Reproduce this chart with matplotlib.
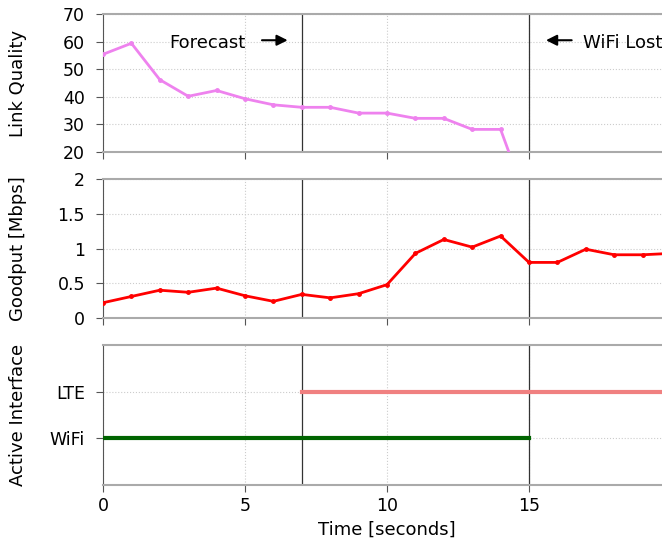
import matplotlib
matplotlib.use('Agg')
import matplotlib.pyplot as plt

# link quality (forecast), goodput, active interface
lq_t = [0, 1, 2, 3, 4, 5, 6, 7, 8, 9, 10, 11, 12, 13, 14, 15]
lq = [55.4, 59.4, 46.2, 40.2, 42.3, 39.3, 37.1, 36.2, 36.2, 34.1, 34.1, 32.2, 32.2, 28.2, 28.2, 0]

gp_t = list(range(21))
goodput = [0.22, 0.31, 0.40, 0.37, 0.43, 0.32, 0.24, 0.34, 0.29, 0.35, 0.48,
           0.93, 1.13, 1.02, 1.18, 0.80, 0.80, 0.99, 0.91, 0.91, 0.93]

lte_span = [7, 20]
wifi_span = [0, 15]
events = [7, 15]

plt.rcParams['font.family'] = 'DejaVu Sans'
plt.rcParams['font.size'] = 12.5

fig = plt.figure(figsize=(6.62, 5.5), dpi=100)
left, width = 0.1556, 0.858
ax1 = fig.add_axes([left, 0.7236, width, 0.2509])
ax2 = fig.add_axes([left, 0.4218, width, 0.2527])
ax3 = fig.add_axes([left, 0.1182, width, 0.2545])


def style(ax):
    ax.set_xlim(0, 20)
    ax.set_xticks([0, 5, 10, 15])
    ax.grid(True, linestyle=':', color='#cccccc', linewidth=0.8, zorder=0)
    ax.spines['right'].set_visible(False)
    ax.spines['top'].set_color('#aaaaaa')
    ax.spines['bottom'].set_color('#aaaaaa')
    ax.spines['top'].set_linewidth(1.5)
    ax.spines['bottom'].set_linewidth(1.5)
    ax.spines['left'].set_color('#555555')
    ax.tick_params(direction='out', length=5, color='#555555', labelsize=12.5)
    ax.tick_params(axis='y', pad=8)
    for x in events:
        ax.axvline(x, color='#333333', linewidth=0.9, zorder=2)


for ax in (ax1, ax2, ax3):
    style(ax)

ax1.plot(lq_t, lq, color='violet', linewidth=2, marker='o', markersize=2.5, zorder=3)
ax1.set_ylim(20, 70)
ax1.set_yticks([20, 30, 40, 50, 60, 70])
ax1.set_ylabel('Link Quality', fontsize=13)
ax1.tick_params(labelbottom=False)
ax1.annotate('', xy=(6.6, 60.5), xytext=(5.5, 60.5),
             arrowprops=dict(arrowstyle='-|>', color='black', lw=1.5, mutation_scale=16))
ax1.text(2.35, 59.5, 'Forecast', va='center', ha='left', fontsize=13)
ax1.annotate('', xy=(15.5, 60.5), xytext=(16.6, 60.5),
             arrowprops=dict(arrowstyle='-|>', color='black', lw=1.5, mutation_scale=16))
ax1.text(16.9, 59.5, 'WiFi Lost', va='center', ha='left', fontsize=13)

ax2.plot(gp_t, goodput, color='red', linewidth=2, marker='o', markersize=2.5, zorder=3)
ax2.set_ylim(0, 2)
ax2.set_yticks([0, 0.5, 1, 1.5, 2])
ax2.set_yticklabels(['0', '0.5', '1', '1.5', '2'])
ax2.set_ylabel('Goodput [Mbps]', fontsize=13)
ax2.tick_params(labelbottom=False)

ax3.plot(lte_span, [2, 2], color='lightcoral', linewidth=3, zorder=3)
ax3.plot(wifi_span, [1, 1], color='darkgreen', linewidth=3, zorder=3)
ax3.set_ylim(0, 3)
ax3.set_yticks([1, 2])
ax3.set_yticklabels(['WiFi', 'LTE'])
ax3.set_ylabel('Active Interface', fontsize=13)
ax3.set_xlabel('Time [seconds]', fontsize=13)

# same label column for all three panels
for ax in (ax1, ax2, ax3):
    ax.yaxis.set_label_coords(-0.133, 0.5)

fig.savefig('out.png', dpi=100)
